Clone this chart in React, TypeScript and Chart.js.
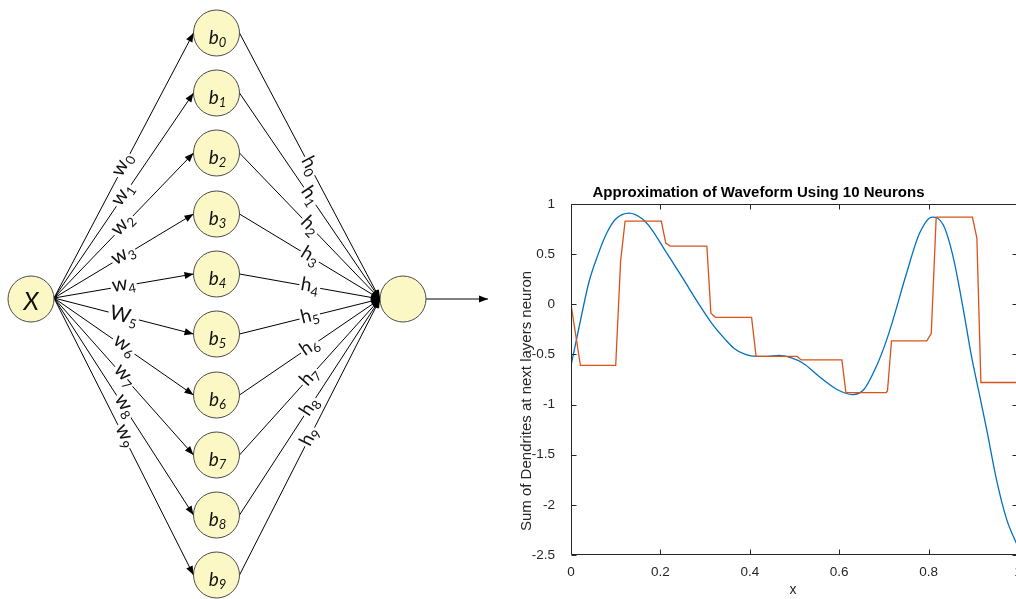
import React, { useEffect, useRef } from "react";
import { Chart, registerables } from "chart.js";

Chart.register(...registerables);

// ---------- Network diagram (left) ----------
const inputNodeX = 31;
const inputNodeY = 299;
const hiddenNodeX = 216.5;
const hiddenNodeY = [33, 93, 153, 214, 274, 334, 395, 455, 515, 575];
const outputNodeX = 403;
const outputNodeY = 299;
const outputArrowEndX = 488;
const hiddenIndex = ["0", "1", "2", "3", "4", "5", "6", "7", "8", "9"];
const weightSymbols = ["w", "w", "w", "w", "w", "W", "w", "w", "w", "w"];
const outWeightSymbol = "h";
const hiddenSymbol = "b";
const inputLabel = "X";

// ---------- Waveform chart (right) ----------
const chartTitle = "Approximation of Waveform Using 10 Neurons";
const xAxisTitle = "x";
const yAxisTitle = "Sum of Dendrites at next layers neuron";
const xTickValues = [0, 0.2, 0.4, 0.6, 0.8, 1];
const yTickValues = [1, 0.5, 0, -0.5, -1, -1.5, -2, -2.5];

const targetX = [0, 0.01, 0.025, 0.04, 0.06, 0.08, 0.1, 0.13, 0.16, 0.18, 0.21, 0.25, 0.285, 0.315, 0.345, 0.365, 0.39, 0.415, 0.44, 0.465, 0.49, 0.52, 0.555, 0.595, 0.63, 0.655, 0.685, 0.705, 0.72, 0.75, 0.78, 0.808, 0.833, 0.855, 0.878, 0.896, 0.91, 0.93, 0.952, 0.975, 1.0];
const targetY = [-0.61, -0.4, -0.08, 0.22, 0.49, 0.71, 0.85, 0.91, 0.85, 0.75, 0.54, 0.26, 0.01, -0.19, -0.35, -0.44, -0.5, -0.52, -0.52, -0.51, -0.53, -0.59, -0.72, -0.85, -0.9, -0.85, -0.6, -0.37, -0.16, 0.3, 0.71, 0.87, 0.79, 0.47, -0.06, -0.52, -0.82, -1.25, -1.75, -2.15, -2.42];

const approxX = [0, 0.021, 0.1, 0.111, 0.121, 0.202, 0.212, 0.222, 0.304, 0.313, 0.323, 0.404, 0.414, 0.506, 0.515, 0.606, 0.615, 0.705, 0.708, 0.717, 0.796, 0.806, 0.817, 0.898, 0.908, 0.917, 1.0];
const approxY = [0, -0.61, -0.61, 0.43, 0.83, 0.83, 0.61, 0.58, 0.58, -0.09, -0.13, -0.13, -0.52, -0.52, -0.555, -0.555, -0.88, -0.88, -0.865, -0.365, -0.365, -0.29, 0.87, 0.87, 0.66, -0.78, -0.78];

const NODE_R = 23;
const DIAG_FONT = "Lato, 'Open Sans', sans-serif";
const AX_FONT = "'Liberation Sans', Arial, sans-serif";

function wEdge(i: number) {
  return [
    { x: inputNodeX + NODE_R, y: inputNodeY - 1 },
    { x: hiddenNodeX - NODE_R, y: hiddenNodeY[i] },
  ];
}
function hEdge(i: number) {
  return [
    { x: hiddenNodeX + NODE_R, y: hiddenNodeY[i] },
    { x: outputNodeX - NODE_R, y: outputNodeY },
  ];
}
function outEdge() {
  return [
    { x: outputNodeX + NODE_R, y: outputNodeY },
    { x: outputArrowEndX, y: outputNodeY },
  ];
}

function drawSubText(
  ctx: CanvasRenderingContext2D,
  main: string,
  sub: string,
  mainFont: string,
  subFont: string,
  cx: number,
  baseY: number,
  subDy: number
) {
  ctx.font = mainFont;
  const mw = ctx.measureText(main).width;
  ctx.font = subFont;
  const sw = ctx.measureText(sub).width;
  const total = mw + sw;
  const x0 = cx - total / 2;
  ctx.textAlign = "left";
  ctx.textBaseline = "alphabetic";
  ctx.font = mainFont;
  ctx.fillText(main, x0, baseY);
  ctx.font = subFont;
  ctx.fillText(sub, x0 + mw, baseY + subDy);
  return total;
}

const diagramDecor = {
  id: "diagramDecor",
  afterDatasetsDraw(chart: any) {
    const { ctx } = chart;
    const sx = chart.scales.x;
    const sy = chart.scales.y;
    const px = (v: number) => sx.getPixelForValue(v);
    const py = (v: number) => sy.getPixelForValue(v);
    ctx.save();
    ctx.fillStyle = "#000";
    const arrow = (e: { x: number; y: number }[], len: number, half: number) => {
      const x1 = px(e[0].x), y1 = py(e[0].y), x2 = px(e[1].x), y2 = py(e[1].y);
      const a = Math.atan2(y2 - y1, x2 - x1);
      ctx.save();
      ctx.translate(x2, y2);
      ctx.rotate(a);
      ctx.beginPath();
      ctx.moveTo(0, 0);
      ctx.lineTo(-len, -half);
      ctx.lineTo(-len, half);
      ctx.closePath();
      ctx.fill();
      ctx.restore();
    };
    for (let i = 0; i < hiddenNodeY.length; i++) {
      arrow(wEdge(i), 9, 3.5);
      arrow(hEdge(i), 9, 3.5);
    }
    arrow(outEdge(), 9, 3.5);

    const edgeLabel = (
      e: { x: number; y: number }[],
      main: string,
      sub: string,
      mainSize: number,
      baseOff: number
    ) => {
      const x1 = px(e[0].x), y1 = py(e[0].y), x2 = px(e[1].x), y2 = py(e[1].y);
      const a = Math.atan2(y2 - y1, x2 - x1);
      const mx = (x1 + x2) / 2, my = (y1 + y2) / 2;
      ctx.save();
      ctx.translate(mx, my);
      ctx.rotate(a);
      const mf = `${mainSize}px ${DIAG_FONT}`;
      const sf = `13px ${DIAG_FONT}`;
      ctx.font = mf;
      const mw = ctx.measureText(main).width;
      ctx.font = sf;
      const sw = ctx.measureText(sub).width;
      ctx.fillStyle = "#fff";
      ctx.fillRect(-(mw + sw) / 2 - 1.5, -8, mw + sw + 3, 16);
      ctx.fillStyle = "#111";
      drawSubText(ctx, main, sub, mf, sf, 0, baseOff, 4);
      ctx.restore();
    };
    for (let i = 0; i < hiddenNodeY.length; i++) {
      const w = weightSymbols[i];
      edgeLabel(wEdge(i), w, hiddenIndex[i], 20, w === "W" ? 6 : 4);
      edgeLabel(hEdge(i), outWeightSymbol, hiddenIndex[i], 19, 5);
    }

    ctx.fillStyle = "#111";
    for (let i = 0; i < hiddenNodeY.length; i++) {
      drawSubText(
        ctx,
        hiddenSymbol,
        hiddenIndex[i],
        `italic 19px ${DIAG_FONT}`,
        `italic 13px ${DIAG_FONT}`,
        px(hiddenNodeX) + 1,
        py(hiddenNodeY[i]) + 11,
        3
      );
    }
    ctx.font = `italic 25px ${DIAG_FONT}`;
    ctx.textAlign = "center";
    ctx.textBaseline = "alphabetic";
    ctx.fillText(inputLabel, px(inputNodeX), py(inputNodeY) + 11);
    ctx.restore();
  },
};

const matlabFrame = {
  id: "matlabFrame",
  afterDatasetsDraw(chart: any) {
    const { ctx, chartArea: a } = chart;
    const sx = chart.scales.x;
    const sy = chart.scales.y;
    ctx.save();
    ctx.strokeStyle = "#262626";
    ctx.lineWidth = 1;
    const L = Math.round(a.left) + 0.5;
    const R = Math.round(a.right) - 0.5;
    const T = Math.round(a.top) + 0.5;
    const B = Math.round(a.bottom) - 0.5;
    ctx.beginPath();
    ctx.rect(L, T, R - L, B - T);
    ctx.stroke();
    const tl = 5;
    ctx.beginPath();
    for (const v of xTickValues) {
      const p = Math.round(sx.getPixelForValue(v)) + 0.5;
      ctx.moveTo(p, B);
      ctx.lineTo(p, B - tl);
      ctx.moveTo(p, T);
      ctx.lineTo(p, T + tl);
    }
    for (const v of yTickValues) {
      const p = Math.round(sy.getPixelForValue(v)) + 0.5;
      ctx.moveTo(L, p);
      ctx.lineTo(L + tl, p);
      ctx.moveTo(R, p);
      ctx.lineTo(R - tl, p);
    }
    ctx.stroke();
    ctx.restore();
  },
  afterDraw(chart: any) {
    const { ctx } = chart;
    ctx.save();
    ctx.fillStyle = "#000";
    ctx.font = `bold 15px ${AX_FONT}`;
    ctx.textAlign = "center";
    ctx.textBaseline = "alphabetic";
    ctx.fillText(chartTitle, 258.5, 27);
    ctx.fillStyle = "#262626";
    ctx.font = `14px ${AX_FONT}`;
    ctx.fillText(xAxisTitle, 293, 424);
    ctx.translate(31, 231);
    ctx.rotate(-Math.PI / 2);
    ctx.font = `15px ${AX_FONT}`;
    ctx.fillText(yAxisTitle, 0, 0);
    ctx.restore();
  },
};

export default function App() {
  const leftRef = useRef<HTMLCanvasElement | null>(null);
  const rightRef = useRef<HTMLCanvasElement | null>(null);

  useEffect(() => {
    const edgeStyle = {
      showLine: true,
      borderColor: "#000",
      borderWidth: 1,
      pointRadius: 0,
      pointHoverRadius: 0,
      clip: false as const,
    };
    const nodes = [
      { x: inputNodeX, y: inputNodeY },
      ...hiddenNodeY.map((y) => ({ x: hiddenNodeX, y })),
      { x: outputNodeX, y: outputNodeY },
    ];
    const datasets: any[] = [
      {
        data: nodes,
        pointRadius: NODE_R,
        pointHoverRadius: NODE_R,
        pointBackgroundColor: "#FCF8C6",
        pointBorderColor: "#4a4a4a",
        pointBorderWidth: 1,
        showLine: false,
        clip: false,
      },
    ];
    hiddenNodeY.forEach((_, i) => {
      datasets.push({ ...edgeStyle, data: wEdge(i) });
      datasets.push({ ...edgeStyle, data: hEdge(i) });
    });
    datasets.push({ ...edgeStyle, data: outEdge() });

    const c1 = new Chart(leftRef.current as HTMLCanvasElement, {
      type: "scatter",
      data: { datasets },
      options: {
        responsive: false,
        animation: false,
        events: [],
        layout: { padding: 0, autoPadding: false },
        plugins: { legend: { display: false }, tooltip: { enabled: false } },
        scales: {
          x: { type: "linear", min: 0, max: 500, display: false },
          y: { type: "linear", min: 0, max: 599, reverse: true, display: false },
        },
      },
      plugins: [diagramDecor],
    } as any);

    const tickFont = { family: AX_FONT, size: 13.5 };
    const c2 = new Chart(rightRef.current as HTMLCanvasElement, {
      type: "scatter",
      data: {
        datasets: [
          {
            label: "approximation",
            data: approxX.map((x, i) => ({ x, y: approxY[i] })),
            showLine: true,
            borderColor: "#D95319",
            borderWidth: 1.3,
            pointRadius: 0,
            tension: 0,
          },
          {
            label: "waveform",
            data: targetX.map((x, i) => ({ x, y: targetY[i] })),
            showLine: true,
            borderColor: "#0072BD",
            borderWidth: 1.3,
            pointRadius: 0,
            cubicInterpolationMode: "monotone",
          },
        ],
      },
      options: {
        responsive: false,
        animation: false,
        events: [],
        layout: { padding: { top: 34, right: 22, left: 0, bottom: 0 }, autoPadding: false },
        plugins: { legend: { display: false }, tooltip: { enabled: false } },
        scales: {
          x: {
            type: "linear",
            min: 0,
            max: 1,
            grid: { display: false },
            border: { display: false },
            afterBuildTicks: (s: any) => {
              s.ticks = xTickValues.map((value) => ({ value }));
            },
            afterFit: (s: any) => {
              s.height = 44;
            },
            ticks: {
              color: "#262626",
              font: tickFont,
              padding: 1,
              maxRotation: 0,
              autoSkip: false,
              callback: (v: any) => String(Math.round(Number(v) * 10) / 10),
            },
          },
          y: {
            type: "linear",
            min: -2.5,
            max: 1,
            grid: { display: false },
            border: { display: false },
            afterBuildTicks: (s: any) => {
              s.ticks = yTickValues.map((value) => ({ value }));
            },
            afterFit: (s: any) => {
              s.width = 71;
            },
            ticks: {
              color: "#262626",
              font: tickFont,
              padding: 8,
              autoSkip: false,
              callback: (v: any) => String(Math.round(Number(v) * 10) / 10),
            },
          },
        },
      },
      plugins: [matlabFrame],
    } as any);

    return () => {
      c1.destroy();
      c2.destroy();
    };
  }, []);

  return (
    <div
      style={{
        position: "fixed",
        left: 0,
        top: 0,
        width: 1016,
        height: 599,
        overflow: "hidden",
        background: "#fff",
      }}
    >
      <canvas
        ref={leftRef}
        width={500}
        height={599}
        style={{ position: "absolute", left: 0, top: 0, width: 500, height: 599 }}
      />
      <canvas
        ref={rightRef}
        width={540}
        height={429}
        style={{ position: "absolute", left: 500, top: 170, width: 540, height: 429 }}
      />
    </div>
  );
}
